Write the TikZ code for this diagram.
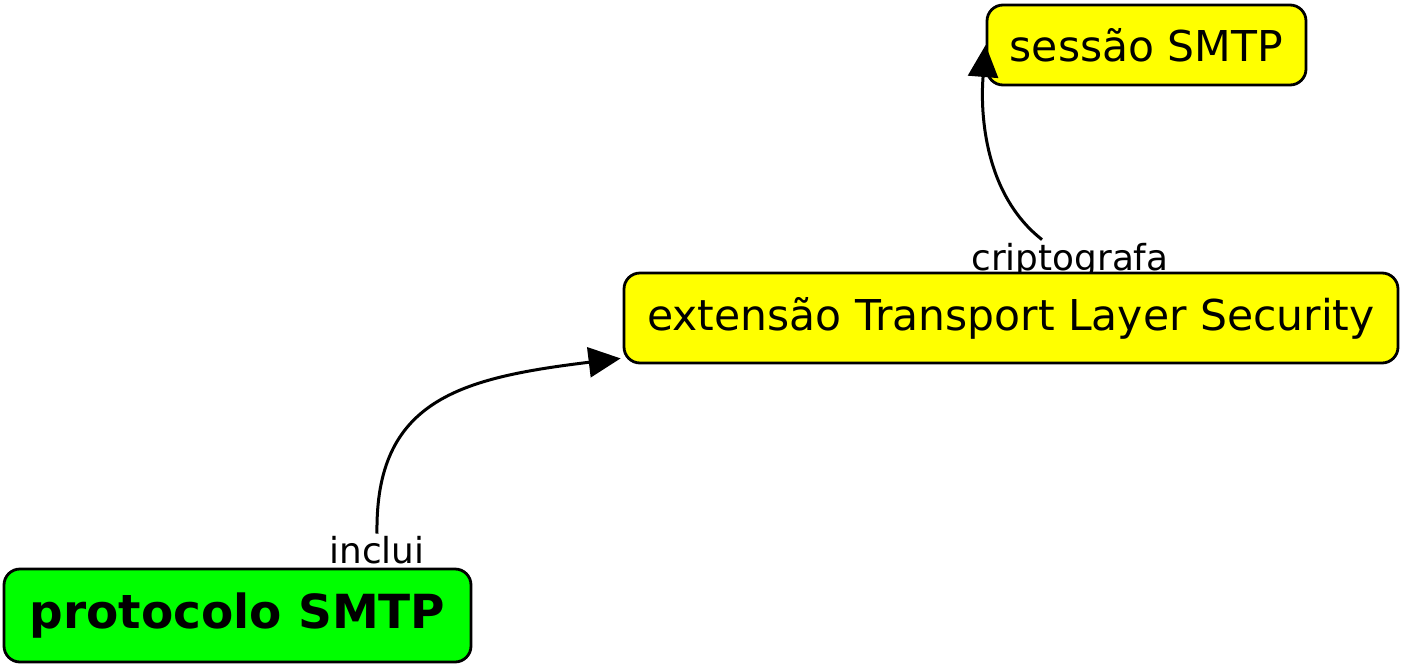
\documentclass[tikz,border=0pt]{standalone}
\usepackage{fontspec}
\setmainfont{DejaVu Sans}
\usetikzlibrary{arrows.meta,calc}
\definecolor{boxyellow}{RGB}{255,255,0}
\definecolor{boxgreen}{RGB}{0,255,0}
\tikzset{
  concept/.style={draw=black, line width=2.8pt, rounded corners=16pt, inner sep=0pt,
    font=\fontsize{42.5}{50}\selectfont},
  linklabel/.style={font=\fontsize{35.8}{42}\selectfont, inner sep=0pt, anchor=base},
  link/.style={line width=3pt, -{Triangle[length=32pt,width=30pt]}}
}
\begin{document}
\begin{tikzpicture}[x=1pt,y=-1pt]
  \useasboundingbox (0,0) rectangle (1405,667);
  % link labels (behind the boxes)
  \node[linklabel] (crip) at (1070,270) {criptografa};
  \node[linklabel] (inclui) at (377,563) {inclui};
  % concept boxes
  \node[concept, fill=boxyellow, minimum width=319pt, minimum height=80pt] (sess) at (1146.5,45) {sessão SMTP};
  \node[concept, fill=boxyellow, minimum width=774pt, minimum height=90pt] (tls) at (1011,318) {extensão Transport Layer Security};
  \node[concept, fill=boxgreen, minimum width=467pt, minimum height=93pt, font=\fontsize{47}{55}\selectfont\bfseries] (prot) at (237.5,615.5) {protocolo SMTP};
  % connectors
  \coordinate (tlsin) at ($(tls.south west)+(-2,-6)$);
  \coordinate (cripout) at ($(crip.north)+(-28,-3)$);
  \coordinate (inclout) at ($(inclui.north)+(0,-2)$);
  \draw[link] (inclout) .. controls (375,400) and (460,378) .. (tlsin);
  \draw[link] (cripout) .. controls (985,195) and (980,115) .. (sess.west);
\end{tikzpicture}
\end{document}
